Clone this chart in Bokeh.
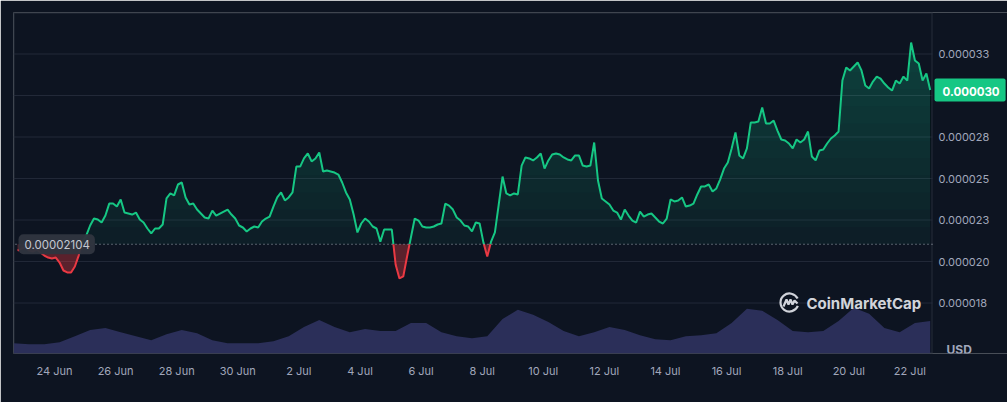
import numpy as np
import pandas as pd
from bokeh.plotting import figure
from bokeh.models import Range1d, FixedTicker, CustomJSTickFormatter, Label
from bokeh.core.properties import value
from bokeh.embed import file_html
from bokeh.resources import INLINE

# ---------------- data ----------------
price_start = "2024-06-22 19:00"
price_step = "3h"
# price in micro-USD (1e-6 USD)
price_musd = [
    20.66, 20.78, 20.84, 20.66, 20.60, 20.72, 20.54, 20.36, 20.24,
    20.18, 20.24, 19.94, 19.46, 19.34, 19.34, 19.70, 20.36, 21.20, 21.57,
    22.17, 22.59, 22.53, 22.35, 22.77, 23.49, 23.49, 23.31, 23.74, 22.95,
    22.89, 22.83, 22.95, 22.53, 22.35, 21.99, 21.69, 21.99, 21.99, 22.23,
    23.80, 24.10, 23.98, 24.64, 24.76, 23.86, 23.43, 23.49, 23.13, 22.89,
    22.65, 22.59, 23.07, 22.77, 22.89, 23.01, 23.13, 22.83, 22.59, 22.17,
    22.05, 21.81, 21.99, 22.11, 22.05, 22.41, 22.59, 22.71, 23.31, 23.86,
    24.16, 23.68, 23.86, 24.16, 25.72, 25.72, 26.21, 26.51, 26.03, 26.21,
    26.57, 25.42, 25.48, 25.42, 25.36, 25.24, 24.76, 24.16, 23.74, 22.83,
    21.75, 22.29, 22.59, 22.41, 22.11, 21.99, 21.20, 21.93, 21.93, 21.93,
    19.82, 18.98, 19.10, 20.30, 21.45, 22.59, 22.47, 22.11, 22.05, 22.05,
    22.11, 22.23, 22.29, 23.49, 23.37, 23.13, 22.65, 22.47, 22.17, 22.11,
    21.81, 22.35, 22.29, 21.14, 20.30, 21.20, 21.75, 23.43, 25.12, 24.10,
    23.98, 24.10, 24.04, 25.78, 26.27, 26.21, 26.09, 26.27, 26.51, 25.60,
    26.09, 26.45, 26.51, 26.45, 26.27, 26.15, 26.09, 26.39, 26.39, 25.78,
    25.72, 25.78, 27.17, 24.88, 23.80, 23.62, 23.43, 23.07, 22.95, 22.53,
    23.13, 22.77, 22.47, 22.35, 23.01, 22.71, 22.83, 22.89, 22.65, 22.41,
    22.29, 22.59, 23.74, 23.62, 23.68, 23.86, 23.31, 23.37, 23.49, 24.04,
    24.52, 24.52, 24.64, 24.22, 24.40, 24.95, 25.60, 25.96, 26.81, 27.77,
    26.39, 26.21, 26.81, 28.37, 28.37, 28.43, 29.28, 28.31, 28.31, 28.49,
    27.89, 27.35, 27.29, 27.11, 26.81, 27.35, 27.17, 27.35, 27.83, 26.33,
    26.09, 26.69, 26.75, 27.11, 27.41, 27.59, 27.83, 30.90, 31.69, 31.51,
    31.75, 31.99, 31.51, 30.60, 30.42, 30.84, 31.14, 31.02, 30.72, 30.48,
    30.30, 30.90, 30.72, 31.14, 30.90, 33.19, 32.11, 31.93, 30.90, 31.33, 30.33,
]

volume_start = "2024-06-22 16:00"
volume_step = "12h"
volume_rel = [
    10, 9, 9, 11, 17, 23, 25, 21, 17, 13,
    19, 23, 20, 13, 10, 10, 10, 12, 17, 26,
    33, 26, 21, 24, 22, 22, 30, 30, 21, 17,
    15, 17, 34, 43, 38, 31, 22, 17, 21, 26,
    23, 18, 14, 13, 17, 18, 20, 30, 44, 42,
    33, 22, 21, 22, 32, 45, 39, 25, 21, 30,
    32,
]

baseline_musd = 21.04
baseline_label = "0.00002104"
last_price_label = "0.000030"

x_tick_dates = ["2024-06-24", "2024-06-26", "2024-06-28", "2024-06-30", "2024-07-02",
                "2024-07-04", "2024-07-06", "2024-07-08", "2024-07-10", "2024-07-12",
                "2024-07-14", "2024-07-16", "2024-07-18", "2024-07-20", "2024-07-22"]
x_tick_labels = ["24 Jun", "26 Jun", "28 Jun", "30 Jun", "2 Jul", "4 Jul", "6 Jul", "8 Jul",
                 "10 Jul", "12 Jul", "14 Jul", "16 Jul", "18 Jul", "20 Jul", "22 Jul"]
y_tick_values = [17.5, 20.0, 22.5, 25.0, 27.5, 30.0, 32.5]
y_tick_labels = ["0.000018", "0.000020", "0.000023", "0.000025", "0.000028", "0.000030", "0.000033"]
currency_label = "USD"
brand_label = "CoinMarketCap"

# ---------------- helpers ----------------
def to_ms(ts):
    return np.asarray(pd.DatetimeIndex(ts).values.astype("datetime64[ms]").astype("int64"), dtype=float)

t_price = to_ms(pd.date_range(price_start, periods=len(price_musd), freq=price_step))
t_vol = to_ms(pd.date_range(volume_start, periods=len(volume_rel), freq=volume_step))
x_ticks = [float(v) for v in to_ms(pd.to_datetime(x_tick_dates))]

# chart (plot-area) time span; the canvas frame extends past it to host the price scale
x_start = float(to_ms(pd.to_datetime(["2024-06-22 15:47"]))[0])
x_end = float(to_ms(pd.to_datetime(["2024-07-22 17:48"]))[0])
y_bot, y_top = 14.46, 35.0
L, R, T, B = 13, 932, 12, 353   # chart area edges in px


def px_to_x(px):
    return x_start + (px - L) / (R - L) * (x_end - x_start)


def px_to_y(py):
    return y_top - (py - T) / (B - T) * (y_top - y_bot)


# insert baseline crossings so the line changes colour exactly at the baseline
y = np.array(price_musd, dtype=float)
xs, ys = [t_price[0]], [y[0]]
for i in range(1, len(y)):
    a, b = y[i - 1] - baseline_musd, y[i] - baseline_musd
    if a * b < 0:
        f = -a / (b - a)
        xs.append(t_price[i - 1] + f * (t_price[i] - t_price[i - 1]))
        ys.append(baseline_musd)
    xs.append(t_price[i]); ys.append(y[i])
xs, ys = np.array(xs), np.array(ys)
green_line = np.where(ys >= baseline_musd, ys, np.nan)
red_line = np.where(ys <= baseline_musd, ys, np.nan)
green_top = np.maximum(ys, baseline_musd)
red_bot = np.minimum(ys, baseline_musd)

BG = "#0d1421"
GREEN = "#16c784"
RED = "#ea3943"
TXT = "#a1a7bb"
GRID = "#222938"
FONT = "Inter"

p = figure(width=1007, height=402, x_axis_type="datetime", y_axis_location=None,
           x_range=Range1d(x_start, px_to_x(1007)), y_range=Range1d(y_bot, y_top),
           output_backend="svg", toolbar_location=None,
           min_border_left=L, min_border_right=0, min_border_top=T, min_border_bottom=402 - B,
           background_fill_color=BG, border_fill_color=BG)
p.extra_y_ranges = {"vol": Range1d(0, max(volume_rel) * 7.45)}
p.outline_line_color = None
p.xgrid.visible = False
p.ygrid.visible = False

# grid lines and chart borders (stop at the price scale)
p.segment(x0=x_start, x1=x_end, y0=y_tick_values, y1=y_tick_values, line_color=GRID, line_width=1)
p.segment(x0=[x_start, x_start], x1=[x_end, x_end],
          y0=[px_to_y(T + 0.5), px_to_y(B - 0.5)], y1=[px_to_y(T + 0.5), px_to_y(B - 0.5)],
          line_color="#262c3a", line_width=1)
p.segment(x0=[px_to_x(L + 0.5), px_to_x(R - 0.5)], x1=[px_to_x(L + 0.5), px_to_x(R - 0.5)],
          y0=y_bot, y1=y_top, line_color="#262c3a", line_width=1)

# volume
p.varea(x=t_vol, y1=0, y2=volume_rel, y_range_name="vol", fill_color="#2b2f59", fill_alpha=1.0)

# green gradient fill (stacked translucent layers)
N = 12
p.varea(x=xs, y1=baseline_musd, y2=green_top, fill_color=GREEN, fill_alpha=0.06)
for k in range(1, N):
    thr = baseline_musd + k * (33.5 - baseline_musd) / N
    p.varea(x=xs, y1=np.minimum(thr, green_top), y2=green_top, fill_color=GREEN, fill_alpha=0.026)

# red fill
p.varea(x=xs, y1=red_bot, y2=baseline_musd, fill_color=RED, fill_alpha=0.35)

p.line(xs, green_line, line_color=GREEN, line_width=2)
p.line(xs, red_line, line_color=RED, line_width=2)

# dotted baseline
p.segment(x0=[px_to_x(15)], x1=[x_end], y0=[baseline_musd], y1=[baseline_musd],
          line_color="#b5bac6", line_dash="1 3", line_width=1, line_alpha=0.9)

# price scale labels
p.text(x=[px_to_x(938)] * len(y_tick_values), y=y_tick_values, text=y_tick_labels,
       text_baseline="middle", text_align="left", text_color=TXT,
       text_font=value(FONT), text_font_size=value("11px"))

# x axis
fmt_js = """
let best = 0, d = Infinity;
for (let i = 0; i < tv.length; i++) { const e = Math.abs(tv[i] - tick); if (e < d) { d = e; best = i; } }
return lab[best];
"""
ax = p.xaxis[0]
ax.ticker = FixedTicker(ticks=x_ticks)
ax.formatter = CustomJSTickFormatter(args=dict(tv=x_ticks, lab=x_tick_labels), code=fmt_js)
ax.axis_line_color = None
ax.major_tick_line_color = None
ax.minor_tick_line_color = None
ax.major_tick_out = 0
ax.major_label_text_color = TXT
ax.major_label_text_font = FONT
ax.major_label_text_font_size = "11px"
ax.major_label_standoff = 10

# baseline label
p.add_layout(Label(x=x_start, y=baseline_musd, x_offset=5, text=baseline_label,
                   text_baseline="middle", text_align="left",
                   text_color="#c4c8d2", text_font=FONT, text_font_size="11.5px",
                   background_fill_color="#30353f", background_fill_alpha=0.97,
                   padding=(6, 5, 6, 5), border_radius=5))

# last price badge
p.add_layout(Label(x=x_end, y=price_musd[-1], x_offset=2, text=last_price_label,
                   text_baseline="middle", text_align="left",
                   text_color="#ffffff", text_font=FONT, text_font_size="11.5px",
                   text_font_style="bold",
                   background_fill_color=GREEN, background_fill_alpha=1.0,
                   padding=(8, 6, 8, 6), border_radius=2))

# currency label
p.add_layout(Label(x=px_to_x(946), y=px_to_y(349), text=currency_label,
                   text_baseline="middle", text_align="left",
                   text_color=TXT, text_font=FONT, text_font_size="12px",
                   text_font_style="bold"))

# watermark
LOGO = "#e6e8ee"
p.arc(x=[px_to_x(789)], y=[px_to_y(302)], radius=9, radius_units="screen",
      start_angle=0.45, end_angle=5.9, line_color=LOGO, line_width=2.2, line_alpha=0.9)
wave_dx = [-6, -3, -1, 1, 3, 5, 8]
wave_dy = [4, -3, 2, -3, 2, -2, 1]
p.line([px_to_x(789 + d) for d in wave_dx], [px_to_y(302 + d) for d in wave_dy],
       line_color=LOGO, line_width=2.2, line_alpha=0.9)
p.add_layout(Label(x=px_to_x(806), y=px_to_y(303), text=brand_label,
                   text_baseline="middle", text_align="left",
                   text_color=LOGO, text_alpha=0.92, text_font=FONT, text_font_size="15px",
                   text_font_style="bold"))

open("out.html", "w").write(file_html(p, INLINE))
